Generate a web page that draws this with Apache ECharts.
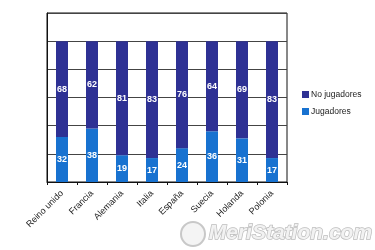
<!DOCTYPE html>
<html><head><meta charset="utf-8">
<script src="https://cdn.jsdelivr.net/npm/echarts@6/dist/echarts.min.js"></script>
<style>html,body{margin:0;padding:0;background:#fff}#c{width:375px;height:250px}</style>
</head><body><div id="c"></div>
<script>
const categories = ['Reino unido','Francia','Alemania','Italia','España','Suecia','Holanda','Polonia'];
const jugadores = [32,38,19,17,24,36,31,17];
const noJugadores = [68,62,81,83,76,64,69,83];
const chart = echarts.init(document.getElementById('c'), null, {renderer:'canvas'});
const lbl = {show:true, position:'inside', color:'#fff', fontSize:9, fontWeight:'bold', fontFamily:'Liberation Sans, Arial, sans-serif'};
chart.setOption({
  animation:false,
  backgroundColor:'#fff',
  grid:{left:47, top:13, width:240, height:169, show:true, borderColor:'#111', borderWidth:1, containLabel:false},
  legend:{
    data:['No jugadores','Jugadores'], orient:'vertical', left:297, top:85,
    itemWidth:7, itemHeight:7, itemGap:8, icon:'rect',
    textStyle:{fontSize:8.5, color:'#222', fontFamily:'Liberation Sans, Arial, sans-serif', padding:[0,0,0,-3]}
  },
  xAxis:{
    type:'category', data:categories,
    axisLine:{lineStyle:{color:'#111'}},
    axisTick:{show:true, length:3, lineStyle:{color:'#111'}},
    axisLabel:{rotate:45, fontSize:9, color:'#222', margin:10, interval:0, fontFamily:'Liberation Sans, Arial, sans-serif'}
  },
  yAxis:{
    type:'value', min:0, max:120, interval:20,
    axisLabel:{show:false}, axisTick:{show:false},
    axisLine:{show:true, lineStyle:{color:'#111'}},
    splitLine:{lineStyle:{color:'#444', width:1}}
  },
  series:[
    {name:'Jugadores', type:'bar', stack:'t', data:jugadores, barWidth:12, itemStyle:{color:'#1872d0'}, label:lbl},
    {name:'No jugadores', type:'bar', stack:'t', data:noJugadores, barWidth:12, itemStyle:{color:'#2e3194'}, label:lbl}
  ],
  graphic:[
    {type:'circle', shape:{cx:193, cy:234, r:12}, style:{fill:'#f4f4f4', stroke:'#c8c8c8', lineWidth:2}},
    {type:'text', left:208, top:222, style:{text:'MeriStation.com', fontSize:21, fontStyle:'italic', fontWeight:'bold', fontFamily:'Liberation Sans, Arial, sans-serif', fill:'#f2f2f2', stroke:'#bdbdbd', lineWidth:1.5}}
  ]
});
</script></body></html>
